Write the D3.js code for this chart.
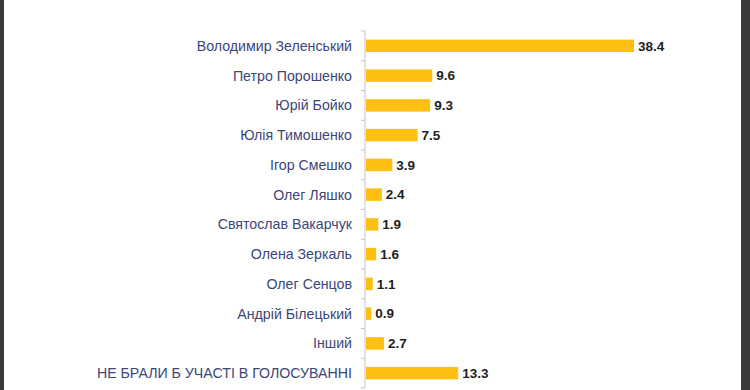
<!DOCTYPE html>
<html lang="uk">
<head>
<meta charset="utf-8"/>
<title>Рейтинг кандидатів</title>
<script src="https://cdnjs.cloudflare.com/ajax/libs/d3/7.8.5/d3.min.js"></script>
<style>
	body { margin: 0; background: #fff; }
	svg { display: block; }
	.label { font-family: "Liberation Sans", Arial, sans-serif; font-size: 14.2px; fill: #3b4679; }
	.value { font-family: "Liberation Sans", Arial, sans-serif; font-size: 13.5px; font-weight: bold; fill: #1e1e1e; }
</style>
</head>
<body>
<script>
	// categories and values
	var names = [
		"Володимир Зеленський",
		"Петро Порошенко",
		"Юрій Бойко",
		"Юлія Тимошенко",
		"Ігор Смешко",
		"Олег Ляшко",
		"Святослав Вакарчук",
		"Олена Зеркаль",
		"Олег Сенцов",
		"Андрій Білецький",
		"Інший",
		"НЕ БРАЛИ Б УЧАСТІ В ГОЛОСУВАННІ"
	];
	var values = [38.4, 9.6, 9.3, 7.5, 3.9, 2.4, 1.9, 1.6, 1.1, 0.9, 2.7, 13.3];

	var W = 750, H = 390;
	var axisX = 365;

	var svg = d3.select("body").append("svg")
		.attr("width", W)
		.attr("height", H);

	svg.append("rect").attr("width", W).attr("height", H).attr("fill", "#fff");

	// dark edges of the screenshot
	svg.append("rect").attr("x", 0).attr("y", 0).attr("width", 4).attr("height", H).attr("fill", "#3a3a3a");
	svg.append("rect").attr("x", 741).attr("y", 0).attr("width", 9).attr("height", H).attr("fill", "#3a3a3a");

	var data = names.map(function(n, i) { return {name: n, value: values[i]}; });

	var x = d3.scaleLinear().domain([0, 38.4]).range([axisX, 634]);
	var y = d3.scaleBand().domain(names).range([31, 388]).paddingInner(0.58).paddingOuter(0.29);

	// vertical axis with ticks on band edges
	var g = svg.append("g");
	var step = y.step();
	var edges = d3.range(names.length + 1).map(function(i) { return 31 + i * step; });
	g.append("line")
		.attr("x1", axisX).attr("x2", axisX)
		.attr("y1", 31).attr("y2", 388)
		.attr("stroke", "#c4c4c4").attr("stroke-width", 1);
	g.selectAll("line.tick")
		.data(edges)
		.enter().append("line")
		.attr("class", "tick")
		.attr("x1", axisX - 4).attr("x2", axisX)
		.attr("y1", function(d) { return d; })
		.attr("y2", function(d) { return d; })
		.attr("stroke", "#c4c4c4");

	svg.selectAll("rect.bar")
		.data(data)
		.enter().append("rect")
		.attr("class", "bar")
		.attr("x", x(0) + 1)
		.attr("y", function(d) { return y(d.name); })
		.attr("width", function(d) { return x(d.value) - x(0) - 1; })
		.attr("height", y.bandwidth())
		.attr("fill", "#fcbf12");

	svg.selectAll("text.label")
		.data(data)
		.enter().append("text")
		.attr("class", "label")
		.attr("x", axisX - 13)
		.attr("y", function(d) { return y(d.name) + y.bandwidth() / 2; })
		.attr("dy", "0.35em")
		.attr("text-anchor", "end")
		.text(function(d) { return d.name; });

	svg.selectAll("text.value")
		.data(data)
		.enter().append("text")
		.attr("class", "value")
		.attr("x", function(d) { return x(d.value) + 4; })
		.attr("y", function(d) { return y(d.name) + y.bandwidth() / 2; })
		.attr("dy", "0.35em")
		.text(function(d) { return d.value.toFixed(1); });
</script>
</body>
</html>
